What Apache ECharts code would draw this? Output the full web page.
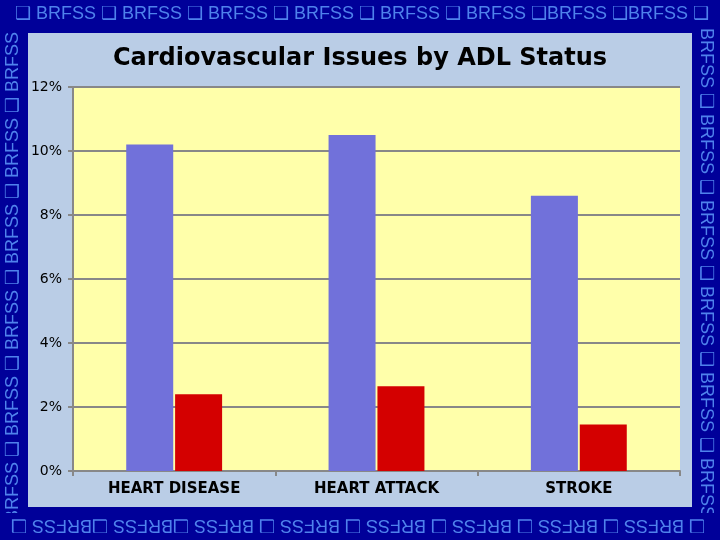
<!DOCTYPE html>
<html>
<head>
<meta charset="utf-8">
<script src="https://cdn.jsdelivr.net/npm/echarts@6/dist/echarts.min.js"></script>
<style>html,body{margin:0;padding:0;background:#000099;}#c{width:720px;height:540px;}</style>
</head>
<body>
<div id="c"></div>
<script>
const categories = ['HEART DISEASE', 'HEART ATTACK', 'STROKE'];
const withADL = [10.2, 10.5, 8.6];
const withoutADL = [2.4, 2.65, 1.45];
const yTicks = { min: 0, max: 12, interval: 2 };

const chart = echarts.init(document.getElementById('c'));
const borderFont = '18px "Liberation Sans", Arial, sans-serif';
const borderColor = '#4f82ec';
const frameColor = '#000099';
const topText = '\u2751 BRFSS \u2751 BRFSS \u2751 BRFSS \u2751 BRFSS \u2751 BRFSS \u2751 BRFSS \u2751BRFSS \u2751BRFSS \u2751';
const bottomText = '\u2751 BRFSS \u2751 BRFSS \u2751 BRFSS \u2751 BRFSS \u2751 BRFSS \u2751 BRFSS \u2751BRFSS \u2751BRFSS \u2751';
const sideText = 'BRFSS \u2751 BRFSS \u2751 BRFSS \u2751 BRFSS \u2751 BRFSS \u2751 BRFSS \u2751 BRFSS';

chart.setOption({
  backgroundColor: frameColor,
  animation: false,
  title: {
    text: 'Cardiovascular Issues by ADL Status',
    left: 'center',
    top: 42,
    textStyle: { fontFamily: '"DejaVu Sans", sans-serif', fontSize: 24, fontWeight: 'bold', color: '#000' }
  },
  graphic: [
    { type: 'rect', z: -10, silent: true, shape: { x: 28, y: 33, width: 664, height: 474 }, style: { fill: '#bacde6' } },
    { type: 'text', z: 1, x: 13, y: 522, rotation: Math.PI / 2, style: { text: sideText, font: borderFont, fill: borderColor, align: 'left', verticalAlign: 'middle' } },
    { type: 'text', z: 1, x: 706, y: 28, rotation: -Math.PI / 2, style: { text: sideText, font: borderFont, fill: borderColor, align: 'left', verticalAlign: 'middle' } },
    { type: 'rect', z: 2, silent: true, shape: { x: 0, y: 0, width: 720, height: 27 }, style: { fill: frameColor } },
    { type: 'rect', z: 2, silent: true, shape: { x: 0, y: 513, width: 720, height: 27 }, style: { fill: frameColor } },
    { type: 'text', z: 3, x: 15, y: 14, style: { text: topText, font: borderFont, fill: borderColor, align: 'left', verticalAlign: 'middle' } },
    { type: 'text', z: 3, x: 705, y: 525, rotation: Math.PI, style: { text: bottomText, font: borderFont, fill: borderColor, align: 'left', verticalAlign: 'middle' } }
  ],
  grid: {
    left: 73, right: 40, top: 87, bottom: 69,
    show: true, backgroundColor: '#ffffaa', borderWidth: 0,
    containLabel: false
  },
  xAxis: {
    type: 'category',
    data: categories,
    axisLine: { lineStyle: { color: '#888', width: 2 } },
    axisTick: { show: true, length: 5, lineStyle: { color: '#888', width: 2 } },
    axisLabel: { margin: 11, color: '#000', fontFamily: '"DejaVu Sans", sans-serif', fontWeight: 'bold', fontSize: 15 }
  },
  yAxis: {
    type: 'value',
    min: yTicks.min, max: yTicks.max, interval: yTicks.interval,
    axisLine: { show: true, lineStyle: { color: '#888', width: 2 } },
    axisTick: { show: true, length: 5, lineStyle: { color: '#888', width: 2 } },
    splitLine: { show: true, lineStyle: { color: '#888', width: 2 } },
    axisLabel: { formatter: '{value}%', margin: 11, color: '#000', fontFamily: '"DejaVu Sans", sans-serif', fontSize: 14 }
  },
  series: [
    { name: 'With ADL limitation', type: 'bar', data: withADL, barWidth: 47, barGap: '4%', itemStyle: { color: '#7171da' } },
    { name: 'Without ADL limitation', type: 'bar', data: withoutADL, barWidth: 47, itemStyle: { color: '#d40000' } }
  ]
});
</script>
</body>
</html>
